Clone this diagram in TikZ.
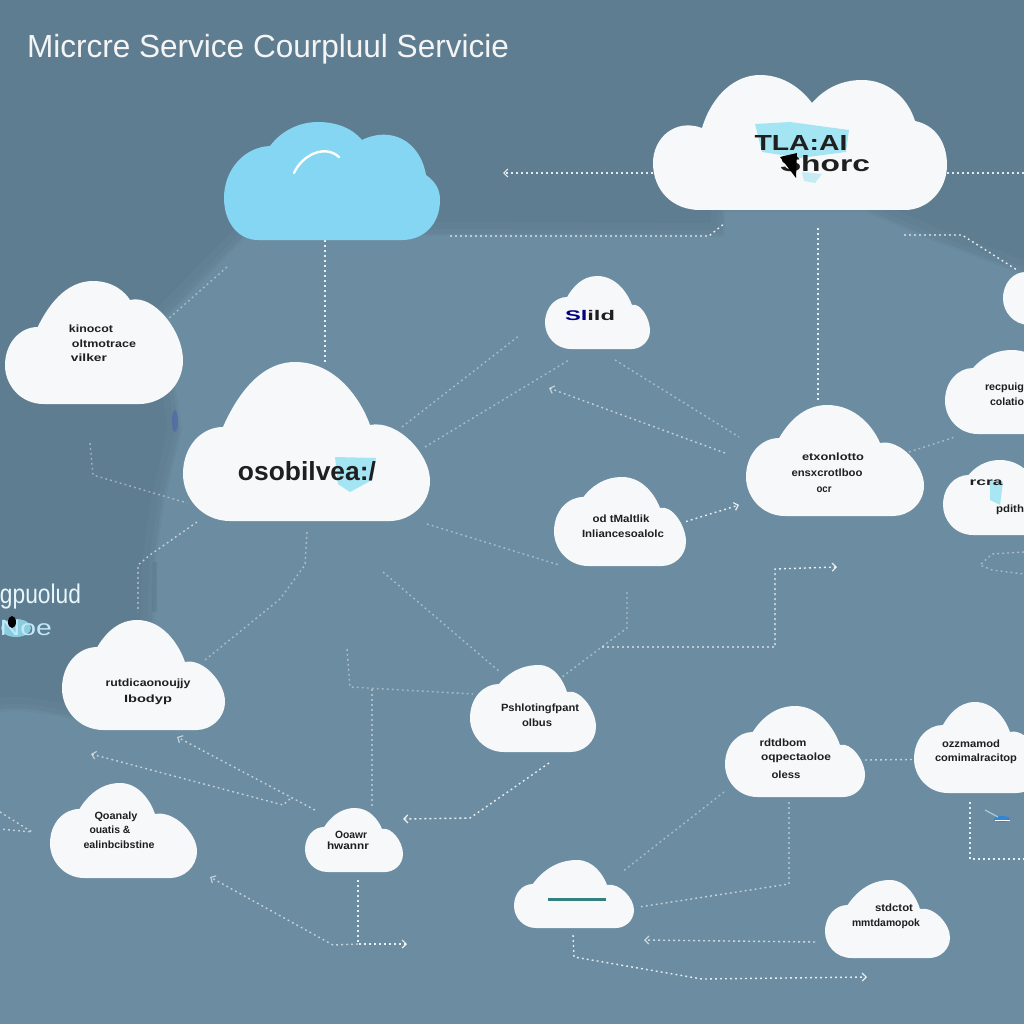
\documentclass[tikz,border=0pt]{standalone}
\usepackage{fontspec}
\usepackage{graphicx}
\setmainfont{Liberation Sans}
\usetikzlibrary{arrows.meta}
\definecolor{bgdark}{RGB}{95,125,144}
\definecolor{bglight}{RGB}{108,141,161}
\definecolor{puffwhite}{RGB}{246,248,249}
\definecolor{skycloud}{RGB}{132,214,243}
\definecolor{smudge}{RGB}{150,226,243}
\pgfdeclarelayer{backdrop}
\pgfdeclarelayer{links}
\pgfsetlayers{backdrop,links,main}
\tikzset{
  linkline/.style={draw=white,opacity=.85,line width=1.4pt,dash pattern=on 1.8pt off 3.2pt},
  linkfaint/.style={linkline,opacity=.42},
  tipline/.style={-{Straight Barb[length=4pt,width=8pt,line width=1.2pt]}},
  anchorbox/.style={inner sep=0pt,outer sep=0pt,draw=none},
  tag/.style={inner sep=0pt,outer sep=0pt,text=black!88,font=\bfseries\fontsize{10.5}{12}\selectfont},
  bigtag/.style={tag,font=\bfseries\fontsize{21}{24}\selectfont},
}
% Cloud with one crown: name, x0, y0, x1, y1, crown x, left shoulder y, right notch x, right notch y
\newcommand{\puff}[9]{%
  \pgfmathsetmacro\rl{(#5-#7)/2}%
  \pgfmathsetmacro\nl{#2+.85*\rl}%
  \pgfmathsetmacro\rr{(#5-#9)*.42}%
  \fill[puffwhite] ({#2+\rl},#5)
    .. controls ({#2+.4*\rl},#5) and (#2,{#5-.5*\rl}) .. (#2,{#5-\rl})
    .. controls (#2,{#7+.4*\rl}) and ({#2+.4*\rl},#7) .. (\nl,#7)
    .. controls ({\nl+.18*(#6-\nl)},{#3+.55*(#7-#3)}) and ({\nl+.5*(#6-\nl)},#3) .. (#6,#3)
    .. controls ({#6+.55*(#8-#6)},#3) and ({#8-.12*(#8-#6)},{#3+.6*(#9-#3)}) .. (#8,#9)
    .. controls ({#8+.45*(#4-#8)},{#9-.06*(#5-#9)}) and (#4,{#9+.3*(#5-#9)}) .. (#4,{#5-\rr})
    .. controls (#4,{#5-.4*\rr}) and ({#4-.5*\rr},#5) .. ({#4-\rr},#5) -- cycle;
  \node[anchorbox,minimum width={(#4-#2)*1pt},minimum height={(#5-#3)*1pt}] (#1) at ({(#2+#4)/2},{(#3+#5)/2}) {};%
}
% Label squeezed to a set width: name, centre x, centre y, width, text
\newcommand{\tagline}[5]{\node[tag] (#1) at (#2,#3) {\resizebox{#4pt}{\height}{#5}};}
\begin{document}
\begin{tikzpicture}[x=1pt,y=-1pt]
\useasboundingbox (0,0) rectangle (1024,1024);

% Backdrop: darker upper band and left panel, lighter field below
\begin{pgfonlayer}{backdrop}
  \fill[bgdark] (0,0) rectangle (1024,1024);
  \def\fieldpath{(165,320) -- (245,238) -- (440,236) -- (725,237) -- (725,212) -- (865,212) -- (930,240) -- (1024,275) -- (1024,1024) -- (0,1024) -- (0,712) .. controls (40,706) and (70,726) .. (130,722) -- (153,700) -- (156,560) -- (165,500) -- (182,430) -- cycle}
  \draw[bglight,opacity=.2,line width=28pt,line join=round] \fieldpath;
  \draw[bglight,opacity=.3,line width=14pt,line join=round] \fieldpath;
  \draw[bglight,opacity=.5,line width=5pt,line join=round] \fieldpath;
  \fill[bglight] \fieldpath;
  \fill[bgdark!80!black,opacity=.22] (157,562) -- (153,562) -- (152,612) -- (157,612) -- cycle;
  \fill[bgdark!70!blue,opacity=.45] (175,421) ellipse (3pt and 11pt);
\end{pgfonlayer}

% Heading and the side caption
\node[inner sep=0pt,text=white!96!black,font=\fontsize{32}{36}\selectfont] (heading) at (268,49)
  {\resizebox{482pt}{\height}{Micrcre Service Courpluul Servicie}};
\node[inner sep=0pt,text=white!90!cyan,font=\fontsize{27}{30}\selectfont] (sidetop) at (40.5,597)
  {\resizebox{81pt}{\height}{gpuolud}};
\fill[smudge,opacity=.8] (16,628) ellipse (15pt and 9pt);
\node[inner sep=0pt,text=white!75!cyan,font=\fontsize{22}{26}\selectfont] (sidelow) at (26,628)
  {\resizebox{52pt}{\height}{Noe}};
\fill[black] (12,622) ellipse (4pt and 6pt);

% Sky-blue cloud with its highlight
\fill[skycloud] (258,240) .. controls (238,240) and (224,222) .. (224,198)
  .. controls (224,170) and (244,147) .. (270,146)
  .. controls (282,130) and (300,122) .. (318,122)
  .. controls (336,122) and (352,128) .. (362,140)
  .. controls (390,126) and (420,140) .. (426,175)
  .. controls (436,182) and (440,190) .. (440,200)
  .. controls (440,224) and (424,240) .. (402,240) -- cycle;
\node[anchorbox,minimum width=216pt,minimum height=118pt] (blue) at (332,181) {};
\draw[white,line width=2.4pt,line cap=round] (294,173) .. controls (302,155) and (325,144) .. (339,157);

% Large cloud with two crowns
\fill[puffwhite] (700,210) .. controls (672,210) and (653,190) .. (653,163)
  .. controls (653,138) and (675,118) .. (702,128)
  .. controls (712,95) and (735,75) .. (760,75)
  .. controls (782,75) and (800,87) .. (812,103)
  .. controls (825,88) and (842,80) .. (862,80)
  .. controls (888,80) and (908,98) .. (915,121)
  .. controls (935,125) and (947,142) .. (947,165)
  .. controls (947,190) and (928,210) .. (905,210) -- cycle;
\node[anchorbox,minimum width=294pt,minimum height=135pt] (topc) at (800,142.5) {};

% White clouds
\puff{leftone}{5}{281}{183}{404}{93}{327}{130}{300}
\puff{hub}{183}{362}{430}{521}{295}{427}{370}{425}
\puff{smallc}{545}{276}{650}{349}{597}{297}{632}{305}
\puff{edgeone}{1003}{262}{1090}{325}{1045}{272}{1075}{280}
\puff{edgetwo}{945}{350}{1080}{434}{1012}{368}{1050}{375}
\puff{edgethree}{943}{460}{1062}{535}{1000}{475}{1040}{490}
\puff{midright}{746}{405}{924}{516}{827}{438}{880}{443}
\puff{midc}{554}{477}{686}{566}{622}{497}{660}{508}
\puff{leftlow}{62}{620}{225}{730}{137}{647}{185}{662}
\puff{centre}{470}{665}{596}{752}{539}{684}{567}{692}
\puff{corner}{50}{783}{197}{878}{120}{809}{155}{814}
\puff{tiny}{305}{808}{403}{872}{355}{827}{382}{829}
\puff{rmid}{725}{706}{865}{797}{795}{732}{840}{745}
\puff{redge}{914}{702}{1042}{793}{975}{725}{1010}{732}
\puff{lowc}{514}{860}{634}{928}{577}{884}{607}{885}
\puff{lowr}{825}{880}{950}{958}{890}{905}{920}{909}

% Bar inside the lower cloud
\fill[teal!60!gray] (548,897.5) rectangle (606,900.5);

% Smudged headline labels
\fill[smudge,opacity=.85] (755,124) -- (790,122) -- (849,130) -- (846,152) -- (800,158) -- (762,152) -- cycle;
\fill[smudge,opacity=.5] (802,172) -- (822,174) -- (815,183) -- (804,181) -- cycle;
\node[bigtag] (toplineone) at (801,143) {\resizebox{93pt}{15pt}{TLA:AI}};
\node[bigtag] (toplinetwo) at (825,164) {\resizebox{90pt}{16pt}{Shorc}};
\fill[black] (780,157) -- (797,153) -- (796,178) -- cycle;
\fill[smudge,opacity=.85] (335,457) -- (376,458) -- (372,480) -- (350,492) -- (338,484) -- cycle;
\node[bigtag] (hubline) at (307,471) {\resizebox{138pt}{19pt}{osobilvea:/}};
\node[tag,font=\bfseries\fontsize{14}{16}\selectfont] (smallline) at (590,315) {\resizebox{50pt}{\height}{\textcolor{blue!50!black}{Sl}ild}};
\fill[smudge,opacity=.8] (990,480) -- (1003,482) -- (1000,505) -- (990,500) -- cycle;
\tagline{edgeathree}{986}{483}{33}{rcra}
\tagline{edgebthree}{1010}{510}{28}{pdith}

% Small cloud captions
\tagline{aone}{91}{329}{44}{kinocot}
\tagline{atwo}{104}{344}{64}{oltmotrace}
\tagline{athree}{89}{358}{36}{vilker}
\tagline{bone}{833}{457}{62}{etxonlotto}
\tagline{btwo}{827}{473}{71}{ensxcrotlboo}
\tagline{bthree}{824}{490}{15}{ocr}
\tagline{cone}{621}{519}{57}{od tMaltlik}
\tagline{ctwo}{623}{534}{82}{Inliancesoalolc}
\tagline{done}{1004.5}{388}{39}{recpuig}
\tagline{dtwo}{1007}{402}{34}{colatio}
\tagline{eone}{148}{684}{85}{rutdicaonoujjy}
\tagline{etwo}{148}{700}{48}{Ibodyp}
\tagline{fone}{540}{709}{78}{Pshlotingfpant}
\tagline{ftwo}{537}{723}{30}{olbus}
\tagline{gone}{116}{817}{43}{Qoanaly}
\tagline{gtwo}{110}{830}{41}{ouatis \&}
\tagline{gthree}{119}{845}{71}{ealinbcibstine}
\tagline{hone}{351}{835}{32}{Ooawr}
\tagline{htwo}{348}{846}{42}{hwannr}
\tagline{ione}{783}{743}{47}{rdtdbom}
\tagline{itwo}{796}{758}{70}{oqpectaoloe}
\tagline{ithree}{786}{775}{29}{oless}
\tagline{jone}{971}{744}{58}{ozzmamod}
\tagline{jtwo}{976}{759}{82}{comimalracitop}
\tagline{kone}{894}{908}{38}{stdctot}
\tagline{ktwo}{886}{924}{68}{mmtdamopok}

% Blue mark beside the lower right cloud
\fill[blue!50!cyan,opacity=.55] (1002,819) ellipse (8pt and 3pt);
\draw[white,opacity=.5,line width=1.2pt] (985,810) -- (998,817);
\draw[white,line width=1pt] (995,820) -- (1010,820);

% Free ends of the connectors
\coordinate (leftfeed) at (227,267);
\coordinate (leftfeedend) at (167,320);
\coordinate (toptip) at (503,173);
\coordinate (topoff) at (1024,173);
\coordinate (ducta) at (450,236);
\coordinate (ductb) at (725,223);
\coordinate (rightducta) at (904,235);
\coordinate (rightductb) at (1017,270);
\coordinate (hubfanone) at (402,427);
\coordinate (smallfanone) at (520,335);
\coordinate (hubfantwo) at (425,447);
\coordinate (smallfantwo) at (569,360);
\coordinate (smallout) at (615,360);
\coordinate (smalloutend) at (739,437);
\coordinate (crossup) at (725,453);
\coordinate (crossuptip) at (549,388);
\coordinate (midtip) at (739,505);
\coordinate (hubdown) at (427,524);
\coordinate (hubdownend) at (559,565);
\coordinate (edgelink) at (909,452);
\coordinate (edgelinkend) at (955,437);
\coordinate (loopa) at (1024,552);
\coordinate (loopb) at (1024,574);
\coordinate (stairstart) at (627,592);
\coordinate (stairend) at (562,677);
\coordinate (risestart) at (602,647);
\coordinate (risetip) at (837,567);
\coordinate (hubleft) at (307,532);
\coordinate (hubleftend) at (205,660);
\coordinate (panelstart) at (197,522);
\coordinate (panelend) at (138,612);
\coordinate (leftdrop) at (90,443);
\coordinate (leftdropend) at (187,503);
\coordinate (diag) at (383,572);
\coordinate (diagend) at (500,672);
\coordinate (elbow) at (347,649);
\coordinate (elbowend) at (473,694);
\coordinate (plumb) at (372,689);
\coordinate (plumbend) at (372,807);
\coordinate (backtipone) at (177,737);
\coordinate (backoneend) at (315,810);
\coordinate (backtiptwo) at (91,754);
\coordinate (backtwoend) at (290,799);
\coordinate (edgevee) at (0,812);
\coordinate (edgeveeend) at (0,829);
\coordinate (midlow) at (549,763);
\coordinate (tinytip) at (403,819);
\coordinate (drop) at (358,880);
\coordinate (droptip) at (407,944);
\coordinate (cornertip) at (210,877);
\coordinate (cornerend) at (358,944);
\coordinate (rmidleft) at (724,792);
\coordinate (lowcright) at (622,872);
\coordinate (rmiddown) at (789,802);
\coordinate (lowcside) at (639,907);
\coordinate (rdrop) at (970,802);
\coordinate (rdropend) at (1024,859);
\coordinate (backrow) at (815,942);
\coordinate (backrowtip) at (644,940);
\coordinate (skirt) at (573,935);
\coordinate (skirttip) at (867,977);

% Dotted connectors, drawn beneath the clouds
\begin{pgfonlayer}{links}
  \draw[linkline] ([xshift=-7pt]blue.south) -- ([xshift=18.5pt]hub.north);
  \draw[linkfaint] (leftfeed) -- (leftfeedend);
  \draw[linkline,tipline] ([yshift=-30.5pt]topc.west) -- (toptip);
  \draw[linkline] ([yshift=-30.5pt]topc.east) -- (topoff);
  \draw[linkline] (ducta) -- (709,236) -- (ductb);
  \draw[linkline] ([xshift=18pt,yshift=-18pt]topc.south) -- ([xshift=-17pt,yshift=3pt]midright.north);
  \draw[linkline] (rightducta) -- (962,235) -- (rightductb);
  \draw[linkfaint] (hubfanone) -- (smallfanone);
  \draw[linkfaint] (hubfantwo) -- (smallfantwo);
  \draw[linkfaint] (smallout) -- (smalloutend);
  \draw[linkline,opacity=.6,tipline] (crossup) -- (crossuptip);
  \draw[linkline,tipline] (midc.east) -- (midtip);
  \draw[linkfaint] (hubdown) -- (hubdownend);
  \draw[linkfaint] (edgelink) -- (edgelinkend);
  \draw[linkfaint] (loopa) -- (992,554) -- (980,565) -- (992,570) -- (loopb);
  \draw[linkfaint] (stairstart) -- (627,628) -- (stairend);
  \draw[linkline,tipline] (risestart) -- (775,647) -- (775,569) -- (risetip);
  \draw[linkfaint] (hubleft) -- (305,565) -- (280,599) -- (hubleftend);
  \draw[linkline,opacity=.6] (panelstart) -- (150,555) -- (138,565) -- (panelend);
  \draw[linkfaint] (leftdrop) -- (93,475) -- (leftdropend);
  \draw[linkfaint] (diag) -- (diagend);
  \draw[linkfaint] (elbow) -- (350,687) -- (elbowend);
  \draw[linkfaint] (plumb) -- (plumbend);
  \draw[linkline,opacity=.6,tipline] (backoneend) -- (backtipone);
  \draw[linkline,opacity=.6,tipline] (backtwoend) -- (283,805) -- (backtiptwo);
  \draw[linkline,opacity=.6] (edgevee) -- (32,832) -- (edgeveeend);
  \draw[linkline,tipline] (midlow) -- (512,789) -- (470,818) -- (tinytip);
  \draw[linkline,tipline] (drop) -- (358,944) -- (droptip);
  \draw[linkline,opacity=.6,tipline] (cornerend) -- (333,945) -- (cornertip);
  \draw[linkline,opacity=.6] ([yshift=-8.5pt]rmid.east) -- ([yshift=-12pt]redge.west);
  \draw[linkfaint] (rmidleft) -- (lowcright);
  \draw[linkline,opacity=.6] (rmiddown) -- (789,884) -- (lowcside);
  \draw[linkline] (rdrop) -- (970,859) -- (rdropend);
  \draw[linkline,opacity=.65,tipline] (backrow) -- (backrowtip);
  \draw[linkline,tipline] (skirt) -- (574,957) -- (702,979) -- (skirttip);
\end{pgfonlayer}
\end{tikzpicture}
\end{document}
